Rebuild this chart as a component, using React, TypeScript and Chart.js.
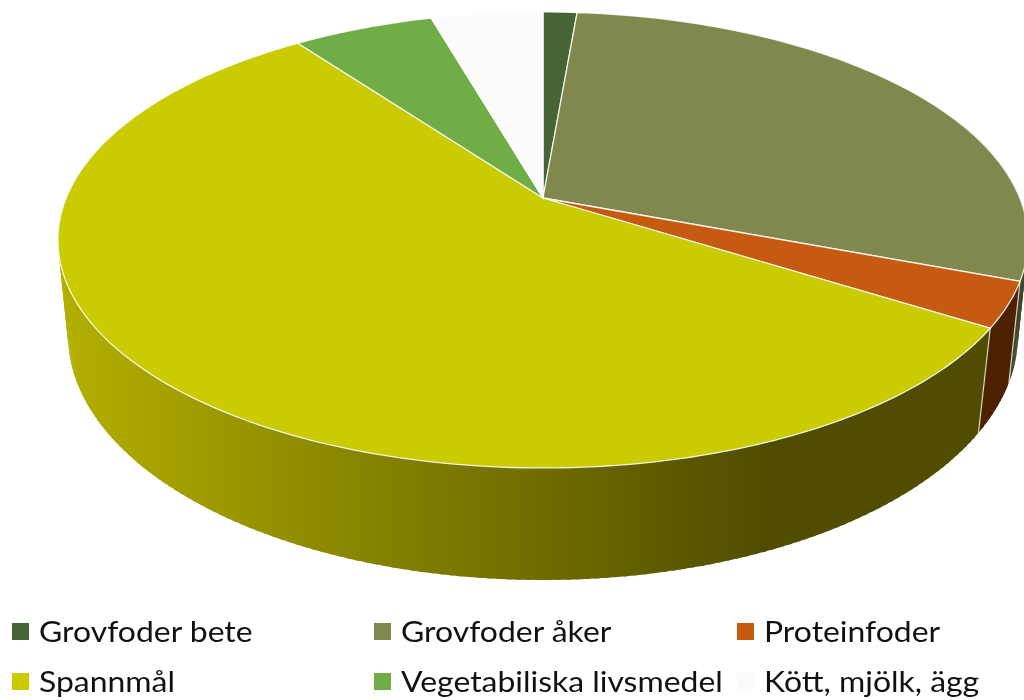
import React, { useEffect, useRef } from "react";
import { Chart, registerables } from "chart.js";

Chart.register(...registerables);

const categories = ["Grovfoder bete", "Grovfoder åker", "Proteinfoder", "Spannmål", "Vegetabiliska livsmedel", "Kött, mjölk, ägg"];
const shares = [1.35, 29.4, 3.2, 56.0, 5.6, 4.45];
const topColors = ["#466535", "#81884d", "#c55a10", "#cacb00", "#70ad47", "#fbfbfb"];
const sideColors = ["#2f4423", "#3f4428", "#4d2200", "#4f4d00", "#3a5a24", "#d0d0d0"];

const rimTop = { cx: 543, cy: 198, a: 476.8, b: 220.3, k: 0.184 };
const rimBottom = { cx: 543, cy: 293.35, a: 468.1, b: 237.9, k: 0.17 };

type Rim = typeof rimTop;

function project(r: Rim, phi: number) {
  const d = 1 + r.k * Math.cos(phi);
  return { x: r.cx + (r.a * Math.sin(phi)) / d, y: r.cy - (r.b * Math.cos(phi)) / d };
}

function rimPoints(r: Rim, from: number, to: number) {
  const steps = Math.max(2, Math.ceil(Math.abs(to - from) / (Math.PI / 180)));
  const pts: { x: number; y: number }[] = [];
  for (let i = 0; i <= steps; i++) pts.push(project(r, from + ((to - from) * i) / steps));
  return pts;
}

const perspectivePie = {
  id: "perspectivePie",
  beforeDatasetsDraw(chart: Chart) {
    const ctx = chart.ctx;
    const arcs = chart.getDatasetMeta(0).data as any[];
    const spans = arcs.map((arc) => {
      const p = arc.getProps(["startAngle", "endAngle"], true);
      return [p.startAngle + Math.PI / 2, p.endAngle + Math.PI / 2];
    });
    const deg = Math.PI / 180;
    const sideFrom = 70 * deg;
    const sideTo = 290 * deg;

    ctx.save();
    spans.forEach(([s, e], i) => {
      const from = Math.max(s, sideFrom);
      const to = Math.min(e, sideTo);
      if (to <= from) return;
      if (i === 3) {
        const g = ctx.createLinearGradient(62, 0, 760, 0);
        g.addColorStop(0, "#b3af00");
        g.addColorStop(0.155, "#a3a000");
        g.addColorStop(0.384, "#8b8800");
        g.addColorStop(0.685, "#706c00");
        g.addColorStop(1, "#504d00");
        ctx.fillStyle = g;
      } else {
        ctx.fillStyle = sideColors[i];
      }
      for (let phi = from; phi < to; phi += deg) {
        const next = Math.min(phi + 1.5 * deg, to);
        const quad = [project(rimTop, phi), project(rimTop, next), project(rimBottom, next), project(rimBottom, phi)];
        ctx.beginPath();
        quad.forEach((p, n) => (n ? ctx.lineTo(p.x, p.y) : ctx.moveTo(p.x, p.y)));
        ctx.closePath();
        ctx.fill();
      }
    });
    ctx.strokeStyle = "rgba(255,255,255,0.75)";
    ctx.lineWidth = 1.2;
    spans.forEach(([, e]) => {
      if (e < sideFrom || e > sideTo) return;
      const a = project(rimTop, e);
      const b = project(rimBottom, e);
      ctx.beginPath();
      ctx.moveTo(a.x, a.y);
      ctx.lineTo(b.x, b.y);
      ctx.stroke();
    });
    spans.forEach(([s, e], i) => {
      const pts = rimPoints(rimTop, s, e);
      ctx.beginPath();
      ctx.moveTo(rimTop.cx, rimTop.cy);
      pts.forEach((p) => ctx.lineTo(p.x, p.y));
      ctx.closePath();
      ctx.fillStyle = topColors[i];
      ctx.fill();
      ctx.strokeStyle = "rgba(255,255,255,0.85)";
      ctx.lineWidth = 1.3;
      ctx.stroke();
    });
    ctx.restore();
    return false;
  },
};

const legendColumns = [12, 374, 737];
const legendRows = [623, 673];

export default function App() {
  const ref = useRef<HTMLCanvasElement>(null);
  useEffect(() => {
    const chart = new Chart(ref.current!, {
      type: "pie",
      data: { labels: categories, datasets: [{ data: shares, backgroundColor: topColors }] },
      options: {
        responsive: false,
        animation: false,
        events: [],
        plugins: { legend: { display: false }, tooltip: { enabled: false } },
      },
      plugins: [perspectivePie],
    });
    return () => chart.destroy();
  }, []);
  return (
    <div style={{ position: "absolute", left: 0, top: 0, width: 1024, height: 700, overflow: "hidden", background: "#fff" }}>
      <canvas ref={ref} width={1024} height={700} style={{ display: "block" }} />
      {categories.map((label, i) => {
        const left = legendColumns[i % 3];
        const top = legendRows[Math.floor(i / 3)];
        return (
          <div key={label} style={{ position: "absolute", left, top, height: 17, whiteSpace: "nowrap" }}>
            <span style={{ position: "absolute", left: 0, top: 0, width: 17, height: 17, background: topColors[i] }} />
            <span
              style={{
                position: "absolute",
                left: 27,
                top: -9,
                lineHeight: "34px",
                fontFamily: "Lato, 'Open Sans', sans-serif",
                fontSize: 28,
                color: "#111",
                transform: "scaleX(1.14)",
                transformOrigin: "0 0",
              }}
            >
              {label}
            </span>
          </div>
        );
      })}
    </div>
  );
}
